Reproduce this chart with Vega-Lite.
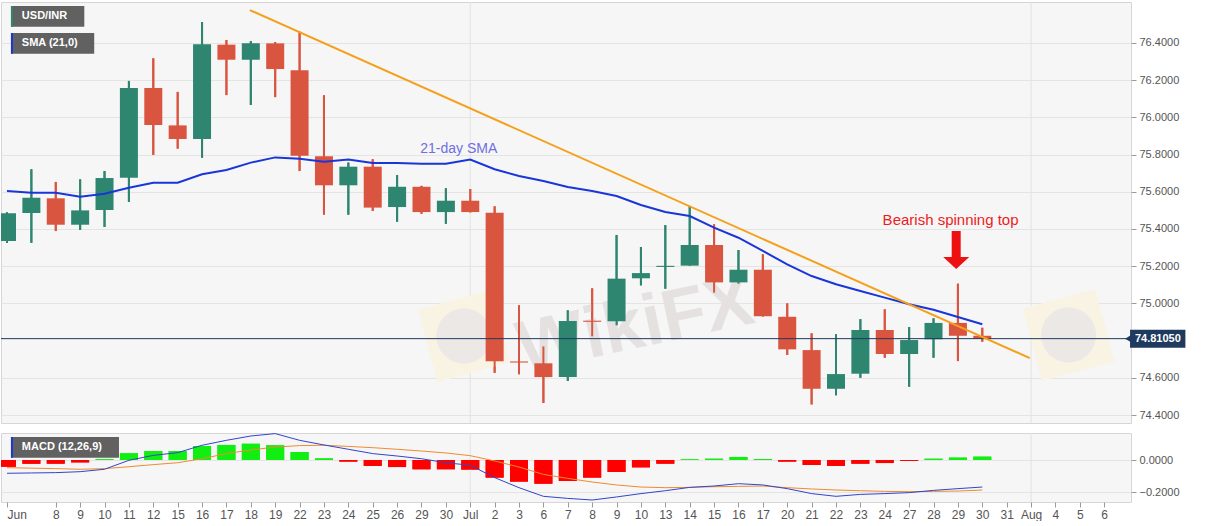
{
 "$schema": "https://vega.github.io/schema/vega-lite/v6.json",
 "background": "white",
 "padding": {"left": 0, "top": 1, "right": 0, "bottom": 0},
 "spacing": 10,
 "bounds": "flush",
 "config": {
  "font": "Liberation Sans",
  "view": {"fill": "#f6f6f6", "stroke": "#d6d6d6"},
  "axis": {"labelColor": "#555555", "labelFontSize": 11, "tickColor": "#9a9a9a", "domain": false, "gridColor": "#e4e4e4", "tickSize": 5},
  "axisX": {"labelOverlap": false, "labelFlush": false}
 },
 "datasets": {
  "ohlc": [
   {"i":0,"o":75.336,"h":75.49,"l":75.325,"c":75.484,"sma":75.604,"hist":-0.042,"macd":-0.083,"sig":-0.048},
   {"i":1,"o":75.486,"h":75.721,"l":75.326,"c":75.568,"sma":75.595,"hist":-0.023,"macd":-0.081,"sig":-0.051},
   {"i":2,"o":75.565,"h":75.653,"l":75.389,"c":75.423,"sma":75.595,"hist":-0.023,"macd":-0.079,"sig":-0.054},
   {"i":3,"o":75.423,"h":75.667,"l":75.395,"c":75.5,"sma":75.574,"hist":-0.015,"macd":-0.073,"sig":-0.058},
   {"i":4,"o":75.502,"h":75.712,"l":75.411,"c":75.674,"sma":75.59,"hist":0.005,"macd":-0.058,"sig":-0.054},
   {"i":5,"o":75.676,"h":76.196,"l":75.545,"c":76.158,"sma":75.622,"hist":0.042,"macd":-0.002,"sig":-0.042},
   {"i":6,"o":76.158,"h":76.318,"l":75.798,"c":75.959,"sma":75.649,"hist":0.056,"macd":0.029,"sig":-0.029},
   {"i":7,"o":75.957,"h":76.137,"l":75.832,"c":75.884,"sma":75.649,"hist":0.056,"macd":0.046,"sig":-0.017},
   {"i":8,"o":75.884,"h":76.513,"l":75.783,"c":76.393,"sma":75.694,"hist":0.0875,"macd":0.092,"sig":0.008},
   {"i":9,"o":76.391,"h":76.416,"l":76.12,"c":76.31,"sma":75.717,"hist":0.094,"macd":0.123,"sig":0.04},
   {"i":10,"o":76.31,"h":76.41,"l":76.067,"c":76.398,"sma":75.757,"hist":0.102,"macd":0.15,"sig":0.0625},
   {"i":11,"o":76.398,"h":76.405,"l":76.109,"c":76.26,"sma":75.785,"hist":0.092,"macd":0.165,"sig":0.081},
   {"i":12,"o":76.253,"h":76.461,"l":75.712,"c":75.794,"sma":75.778,"hist":0.05,"macd":0.123,"sig":0.09},
   {"i":13,"o":75.791,"h":76.119,"l":75.477,"c":75.635,"sma":75.762,"hist":0.01,"macd":0.094,"sig":0.092},
   {"i":14,"o":75.635,"h":75.757,"l":75.477,"c":75.735,"sma":75.773,"hist":-0.01,"macd":0.067,"sig":0.085},
   {"i":15,"o":75.735,"h":75.775,"l":75.497,"c":75.515,"sma":75.755,"hist":-0.037,"macd":0.04,"sig":0.077},
   {"i":16,"o":75.518,"h":75.69,"l":75.439,"c":75.627,"sma":75.755,"hist":-0.044,"macd":0.025,"sig":0.067},
   {"i":17,"o":75.627,"h":75.632,"l":75.482,"c":75.491,"sma":75.751,"hist":-0.058,"macd":0.008,"sig":0.056},
   {"i":18,"o":75.491,"h":75.619,"l":75.428,"c":75.552,"sma":75.751,"hist":-0.058,"macd":-0.017,"sig":0.044},
   {"i":19,"o":75.552,"h":75.615,"l":75.489,"c":75.491,"sma":75.773,"hist":-0.06,"macd":-0.033,"sig":0.027},
   {"i":20,"o":75.488,"h":75.522,"l":74.627,"c":74.689,"sma":75.721,"hist":-0.11,"macd":-0.11,"sig":-0.006},
   {"i":21,"o":74.688,"h":74.99,"l":74.619,"c":74.682,"sma":75.685,"hist":-0.135,"macd":-0.173,"sig":-0.044},
   {"i":22,"o":74.678,"h":74.769,"l":74.465,"c":74.604,"sma":75.658,"hist":-0.148,"macd":-0.227,"sig":-0.09},
   {"i":23,"o":74.604,"h":74.963,"l":74.583,"c":74.905,"sma":75.626,"hist":-0.131,"macd":-0.24,"sig":-0.115},
   {"i":24,"o":74.907,"h":75.081,"l":74.823,"c":74.901,"sma":75.604,"hist":-0.11,"macd":-0.25,"sig":-0.1375},
   {"i":25,"o":74.904,"h":75.368,"l":74.882,"c":75.133,"sma":75.577,"hist":-0.075,"macd":-0.231,"sig":-0.156},
   {"i":26,"o":75.135,"h":75.303,"l":75.097,"c":75.163,"sma":75.529,"hist":-0.046,"macd":-0.21,"sig":-0.169},
   {"i":27,"o":75.196,"h":75.421,"l":75.079,"c":75.202,"sma":75.491,"hist":-0.023,"macd":-0.192,"sig":-0.173},
   {"i":28,"o":75.203,"h":75.524,"l":75.203,"c":75.314,"sma":75.47,"hist":0.004,"macd":-0.171,"sig":-0.171},
   {"i":29,"o":75.314,"h":75.425,"l":75.058,"c":75.113,"sma":75.407,"hist":0.008,"macd":-0.1625,"sig":-0.167},
   {"i":30,"o":75.113,"h":75.287,"l":75.106,"c":75.181,"sma":75.353,"hist":0.019,"macd":-0.148,"sig":-0.165},
   {"i":31,"o":75.181,"h":75.264,"l":74.93,"c":74.931,"sma":75.282,"hist":0.006,"macd":-0.156,"sig":-0.1625},
   {"i":32,"o":74.928,"h":75.0,"l":74.723,"c":74.753,"sma":75.21,"hist":-0.01,"macd":-0.179,"sig":-0.173},
   {"i":33,"o":74.749,"h":74.839,"l":74.457,"c":74.541,"sma":75.147,"hist":-0.031,"macd":-0.21,"sig":-0.181},
   {"i":34,"o":74.541,"h":74.834,"l":74.506,"c":74.62,"sma":75.103,"hist":-0.037,"macd":-0.227,"sig":-0.1875},
   {"i":35,"o":74.622,"h":74.915,"l":74.6,"c":74.857,"sma":75.067,"hist":-0.023,"macd":-0.215,"sig":-0.192},
   {"i":36,"o":74.857,"h":74.968,"l":74.708,"c":74.728,"sma":75.031,"hist":-0.019,"macd":-0.21,"sig":-0.196},
   {"i":37,"o":74.728,"h":74.873,"l":74.552,"c":74.803,"sma":74.995,"hist":-0.006,"macd":-0.204,"sig":-0.198},
   {"i":38,"o":74.807,"h":74.92,"l":74.708,"c":74.895,"sma":74.966,"hist":0.008,"macd":-0.19,"sig":-0.196},
   {"i":39,"o":74.895,"h":75.106,"l":74.69,"c":74.826,"sma":74.927,"hist":0.015,"macd":-0.179,"sig":-0.194},
   {"i":40,"o":74.826,"h":74.869,"l":74.794,"c":74.8105,"sma":74.888,"hist":0.021,"macd":-0.169,"sig":-0.1875}
  ],
  "trend": [{"i":9.96,"v":76.577},{"i":41.95,"v":74.706}],
  "one": [{}]
 },
 "vconcat": [
  {
   "width": 1130, "height": 421,
   "layer": [
    {"data":{"name":"ohlc"},"mark":{"type":"rule","strokeWidth":2,"clip":true},
     "encoding":{
      "x":{"field":"i","type":"quantitative","scale":{"domain":[-0.0407,45.894],"nice":false,"zero":false},"axis":null},
      "y":{"field":"l","type":"quantitative","title":null,"scale":{"domain":[74.357,76.6204],"nice":false,"zero":false},
           "axis":{"orient":"right","title":null,"grid":true,"tickCount":20,"values":[74.4,74.6,75.0,75.2,75.4,75.6,75.8,76.0,76.2,76.4],"format":".4f","labelPadding":3}},
      "y2":{"field":"h"},
      "color":{"condition":{"test":"datum.c >= datum.o","value":"#2e8570"},"value":"#d95540"}}},
    {"data":{"name":"one"},"mark":{"type":"rule","color":"#e2e2e2","strokeWidth":1},
     "encoding":{"x":{"datum":19,"type":"quantitative","scale":{"domain":[-0.0407,45.894],"nice":false,"zero":false},"axis":null}}},
    {"data":{"name":"one"},"mark":{"type":"rule","color":"#e2e2e2","strokeWidth":1},
     "encoding":{"x":{"datum":42,"type":"quantitative","scale":{"domain":[-0.0407,45.894],"nice":false,"zero":false},"axis":null}}},
    {"data":{"name":"one"},"mark":{"type":"point","filled":true,"opacity":1,"shape":"square","size":5625,"angle":345,"color":"#f8f3e2","strokeWidth":0,"clip":true},
     "encoding":{"x":{"datum":18.74,"type":"quantitative","scale":{"domain":[-0.0407,45.894],"nice":false,"zero":false},"axis":null},
                 "y":{"datum":74.8247,"type":"quantitative","scale":{"domain":[74.357,76.6204],"nice":false,"zero":false}}}},
    {"data":{"name":"one"},"mark":{"type":"point","filled":true,"opacity":1,"shape":"circle","size":3025,"color":"#ece8e6","strokeWidth":0,"clip":true},
     "encoding":{"x":{"datum":18.74,"type":"quantitative","scale":{"domain":[-0.0407,45.894],"nice":false,"zero":false},"axis":null},
                 "y":{"datum":74.8247,"type":"quantitative","scale":{"domain":[74.357,76.6204],"nice":false,"zero":false}}}},
    {"data":{"name":"one"},"mark":{"type":"point","filled":true,"opacity":1,"shape":"square","size":5625,"angle":345,"color":"#f8f3e2","strokeWidth":0,"clip":true},
     "encoding":{"x":{"datum":43.54,"type":"quantitative","scale":{"domain":[-0.0407,45.894],"nice":false,"zero":false},"axis":null},
                 "y":{"datum":74.83,"type":"quantitative","scale":{"domain":[74.357,76.6204],"nice":false,"zero":false}}}},
    {"data":{"name":"one"},"mark":{"type":"point","filled":true,"opacity":1,"shape":"circle","size":3025,"color":"#ece8e6","strokeWidth":0,"clip":true},
     "encoding":{"x":{"datum":43.54,"type":"quantitative","scale":{"domain":[-0.0407,45.894],"nice":false,"zero":false},"axis":null},
                 "y":{"datum":74.83,"type":"quantitative","scale":{"domain":[74.357,76.6204],"nice":false,"zero":false}}}},
    {"data":{"name":"one"},"mark":{"type":"text","text":"WikiFX","fontSize":72,"fontWeight":"bold","angle":348,"color":"#e5e1e1","align":"center","baseline":"middle"},
     "encoding":{"x":{"datum":25.77,"type":"quantitative","scale":{"domain":[-0.0407,45.894],"nice":false,"zero":false},"axis":null},
                 "y":{"datum":74.88,"type":"quantitative","scale":{"domain":[74.357,76.6204],"nice":false,"zero":false}}}},
    {"data":{"name":"ohlc"},"mark":{"type":"rule","strokeWidth":2,"clip":true},
     "encoding":{
      "x":{"field":"i","type":"quantitative","scale":{"domain":[-0.0407,45.894],"nice":false,"zero":false},"axis":null},
      "y":{"field":"l","type":"quantitative","title":null,"scale":{"domain":[74.357,76.6204],"nice":false,"zero":false}},
      "y2":{"field":"h"},
      "color":{"condition":{"test":"datum.c >= datum.o","value":"#2e8570"},"value":"#d95540"}}},
    {"data":{"name":"ohlc"},"mark":{"type":"bar","size":18,"clip":true},
     "encoding":{
      "x":{"field":"i","type":"quantitative","scale":{"domain":[-0.0407,45.894],"nice":false,"zero":false},"axis":null},
      "y":{"field":"o","type":"quantitative","title":null,"scale":{"domain":[74.357,76.6204],"nice":false,"zero":false}},
      "y2":{"field":"c"},
      "color":{"condition":{"test":"datum.c >= datum.o","value":"#2e8570"},"value":"#d95540"}}},
    {"data":{"name":"one"},"mark":{"type":"rule","color":"#1e3a5f","strokeWidth":1},
     "encoding":{"y":{"datum":74.8105,"type":"quantitative","scale":{"domain":[74.357,76.6204],"nice":false,"zero":false}}}},
    {"data":{"name":"ohlc"},"mark":{"type":"line","color":"#1a35d8","strokeWidth":2,"clip":true},
     "encoding":{
      "x":{"field":"i","type":"quantitative","scale":{"domain":[-0.0407,45.894],"nice":false,"zero":false},"axis":null},
      "y":{"field":"sma","type":"quantitative","title":null,"scale":{"domain":[74.357,76.6204],"nice":false,"zero":false}}}},
    {"data":{"name":"trend"},"mark":{"type":"line","color":"#f5a01a","strokeWidth":2},
     "encoding":{
      "x":{"field":"i","type":"quantitative","scale":{"domain":[-0.0407,45.894],"nice":false,"zero":false},"axis":null},
      "y":{"field":"v","type":"quantitative","title":null,"scale":{"domain":[74.357,76.6204],"nice":false,"zero":false}}}},
    {"data":{"name":"one"},"mark":{"type":"text","text":"21-day SMA","fontSize":14,"color":"#6f6fe0","align":"left","baseline":"middle"},
     "encoding":{"x":{"datum":16.95,"type":"quantitative","scale":{"domain":[-0.0407,45.894],"nice":false,"zero":false},"axis":null},
                 "y":{"datum":75.83,"type":"quantitative","scale":{"domain":[74.357,76.6204],"nice":false,"zero":false}}}},
    {"data":{"name":"one"},"mark":{"type":"text","text":"Bearish spinning top","fontSize":15,"color":"#ee1c1c","align":"center","baseline":"middle"},
     "encoding":{"x":{"datum":38.7,"type":"quantitative","scale":{"domain":[-0.0407,45.894],"nice":false,"zero":false},"axis":null},
                 "y":{"datum":75.448,"type":"quantitative","scale":{"domain":[74.357,76.6204],"nice":false,"zero":false}}}},
    {"data":{"name":"one"},"mark":{"type":"point","filled":true,"opacity":1,"color":"#ee1111","size":1444,"strokeWidth":0,
      "shape":"M -0.237 -1 L 0.237 -1 L 0.237 0.368 L 0.684 0.368 L 0 1 L -0.684 0.368 L -0.237 0.368 Z"},
     "encoding":{"x":{"datum":38.93,"type":"quantitative","scale":{"domain":[-0.0407,45.894],"nice":false,"zero":false},"axis":null},
                 "y":{"datum":75.287,"type":"quantitative","scale":{"domain":[74.357,76.6204],"nice":false,"zero":false}}}},
    {"data":{"name":"one"},"mark":{"type":"rect","color":"#616161"},
     "encoding":{"x":{"datum":0.1626,"type":"quantitative","scale":{"domain":[-0.0407,45.894],"nice":false,"zero":false},"axis":null},"x2":{"datum":3.171},
                 "y":{"datum":76.599,"type":"quantitative","scale":{"domain":[74.357,76.6204],"nice":false,"zero":false}},"y2":{"datum":76.4876}}},
    {"data":{"name":"one"},"mark":{"type":"rect","color":"#2e8570"},
     "encoding":{"x":{"datum":0.1626,"type":"quantitative","scale":{"domain":[-0.0407,45.894],"nice":false,"zero":false},"axis":null},"x2":{"datum":0.2439},
                 "y":{"datum":76.599,"type":"quantitative","scale":{"domain":[74.357,76.6204],"nice":false,"zero":false}},"y2":{"datum":76.4876}}},
    {"data":{"name":"one"},"mark":{"type":"text","text":"USD/INR","fontSize":11,"fontWeight":"bold","color":"#ffffff","align":"left","baseline":"middle"},
     "encoding":{"x":{"datum":0.6098,"type":"quantitative","scale":{"domain":[-0.0407,45.894],"nice":false,"zero":false},"axis":null},
                 "y":{"datum":76.5434,"type":"quantitative","scale":{"domain":[74.357,76.6204],"nice":false,"zero":false}}}},
    {"data":{"name":"one"},"mark":{"type":"rect","color":"#616161"},
     "encoding":{"x":{"datum":0.1626,"type":"quantitative","scale":{"domain":[-0.0407,45.894],"nice":false,"zero":false},"axis":null},"x2":{"datum":3.577},
                 "y":{"datum":76.4538,"type":"quantitative","scale":{"domain":[74.357,76.6204],"nice":false,"zero":false}},"y2":{"datum":76.3425}}},
    {"data":{"name":"one"},"mark":{"type":"rect","color":"#1a35d8"},
     "encoding":{"x":{"datum":0.1626,"type":"quantitative","scale":{"domain":[-0.0407,45.894],"nice":false,"zero":false},"axis":null},"x2":{"datum":0.2439},
                 "y":{"datum":76.4538,"type":"quantitative","scale":{"domain":[74.357,76.6204],"nice":false,"zero":false}},"y2":{"datum":76.3425}}},
    {"data":{"name":"one"},"mark":{"type":"text","text":"SMA (21,0)","fontSize":11,"fontWeight":"bold","color":"#ffffff","align":"left","baseline":"middle"},
     "encoding":{"x":{"datum":0.6098,"type":"quantitative","scale":{"domain":[-0.0407,45.894],"nice":false,"zero":false},"axis":null},
                 "y":{"datum":76.398,"type":"quantitative","scale":{"domain":[74.357,76.6204],"nice":false,"zero":false}}}},
    {"data":{"name":"one"},"mark":{"type":"point","filled":true,"opacity":1,"color":"#1e3a5f","shape":"triangle-left","size":60,"strokeWidth":0},
     "encoding":{"x":{"datum":45.99,"type":"quantitative","scale":{"domain":[-0.0407,45.894],"nice":false,"zero":false},"axis":null},
                 "y":{"datum":74.8105,"type":"quantitative","scale":{"domain":[74.357,76.6204],"nice":false,"zero":false}}}},
    {"data":{"name":"one"},"mark":{"type":"rect","color":"#1e3a5f"},
     "encoding":{"x":{"datum":46.06,"type":"quantitative","scale":{"domain":[-0.0407,45.894],"nice":false,"zero":false},"axis":null},"x2":{"datum":48.33},
                 "y":{"datum":74.859,"type":"quantitative","scale":{"domain":[74.357,76.6204],"nice":false,"zero":false}},"y2":{"datum":74.762}}},
    {"data":{"name":"one"},"mark":{"type":"text","text":"74.81050","fontSize":11,"fontWeight":"bold","color":"#ffffff","align":"center","baseline":"middle"},
     "encoding":{"x":{"datum":47.2,"type":"quantitative","scale":{"domain":[-0.0407,45.894],"nice":false,"zero":false},"axis":null},
                 "y":{"datum":74.8105,"type":"quantitative","scale":{"domain":[74.357,76.6204],"nice":false,"zero":false}}}}
   ]
  },
  {
   "width": 1130, "height": 69,
   "layer": [
    {"data":{"name":"ohlc"},"mark":{"type":"bar","size":18,"clip":true},
     "encoding":{
      "x":{"field":"i","type":"quantitative","title":null,"scale":{"domain":[-0.0407,45.894],"nice":false,"zero":false},
           "axis":{"title":null,"grid":false,"tickCount":80,"values":[0,2,3,4,5,6,7,8,9,10,11,12,13,14,15,16,17,18,19,20,21,22,23,24,25,26,27,28,29,30,31,32,33,34,35,36,37,38,39,40,41,42,43,44,45],
                   "labelExpr":"['Jun','','8','9','10','11','12','15','16','17','18','19','22','23','24','25','26','29','30','Jul','2','3','6','7','8','9','10','13','14','15','16','17','20','21','22','23','24','27','28','29','30','31','Aug','4','5','6'][datum.value]",
                   "labelAlign":{"condition":{"test":"datum.value == 0","value":"left"},"value":"center"},
                   "labelOverlap":false,"labelFlush":false,"labelPadding":2,"labelFontSize":12}},
      "y":{"field":"hist","type":"quantitative","title":null,"scale":{"domain":[-0.2625,0.16875],"nice":false,"zero":false},
           "axis":{"orient":"right","title":null,"grid":true,"tickCount":10,"values":[0,-0.2],"format":".4f","labelPadding":3}},
      "y2":{"datum":0},
      "color":{"condition":{"test":"datum.hist >= 0","value":"#11ee11"},"value":"#ff0000"}}},
    {"data":{"name":"one"},"mark":{"type":"rule","color":"#e2e2e2","strokeWidth":1},
     "encoding":{"x":{"datum":19,"type":"quantitative","scale":{"domain":[-0.0407,45.894],"nice":false,"zero":false}}}},
    {"data":{"name":"one"},"mark":{"type":"rule","color":"#e2e2e2","strokeWidth":1},
     "encoding":{"x":{"datum":42,"type":"quantitative","scale":{"domain":[-0.0407,45.894],"nice":false,"zero":false}}}},
    {"data":{"name":"ohlc"},"mark":{"type":"bar","size":18,"clip":true},
     "encoding":{
      "x":{"field":"i","type":"quantitative","title":null,"scale":{"domain":[-0.0407,45.894],"nice":false,"zero":false}},
      "y":{"field":"hist","type":"quantitative","title":null,"scale":{"domain":[-0.2625,0.16875],"nice":false,"zero":false}},
      "y2":{"datum":0},
      "color":{"condition":{"test":"datum.hist >= 0","value":"#11ee11"},"value":"#ff0000"}}},
    {"data":{"name":"ohlc"},"mark":{"type":"line","color":"#f08a30","strokeWidth":1,"clip":true},
     "encoding":{
      "x":{"field":"i","type":"quantitative","title":null,"scale":{"domain":[-0.0407,45.894],"nice":false,"zero":false}},
      "y":{"field":"sig","type":"quantitative","title":null,"scale":{"domain":[-0.2625,0.16875],"nice":false,"zero":false}}}},
    {"data":{"name":"ohlc"},"mark":{"type":"line","color":"#3344cc","strokeWidth":1,"clip":true},
     "encoding":{
      "x":{"field":"i","type":"quantitative","title":null,"scale":{"domain":[-0.0407,45.894],"nice":false,"zero":false}},
      "y":{"field":"macd","type":"quantitative","title":null,"scale":{"domain":[-0.2625,0.16875],"nice":false,"zero":false}}}},
    {"data":{"name":"one"},"mark":{"type":"rect","color":"#616161"},
     "encoding":{"x":{"datum":0.1626,"type":"quantitative","scale":{"domain":[-0.0407,45.894],"nice":false,"zero":false}},"x2":{"datum":4.593},
                 "y":{"datum":0.14375,"type":"quantitative","scale":{"domain":[-0.2625,0.16875],"nice":false,"zero":false}},"y2":{"datum":0.0144}}},
    {"data":{"name":"one"},"mark":{"type":"rect","color":"#1a35d8"},
     "encoding":{"x":{"datum":0.1626,"type":"quantitative","scale":{"domain":[-0.0407,45.894],"nice":false,"zero":false}},"x2":{"datum":0.2439},
                 "y":{"datum":0.14375,"type":"quantitative","scale":{"domain":[-0.2625,0.16875],"nice":false,"zero":false}},"y2":{"datum":0.0144}}},
    {"data":{"name":"one"},"mark":{"type":"text","text":"MACD (12,26,9)","fontSize":11,"fontWeight":"bold","color":"#ffffff","align":"left","baseline":"middle"},
     "encoding":{"x":{"datum":0.6098,"type":"quantitative","scale":{"domain":[-0.0407,45.894],"nice":false,"zero":false}},
                 "y":{"datum":0.079,"type":"quantitative","scale":{"domain":[-0.2625,0.16875],"nice":false,"zero":false}}}}
   ]
  }
 ]
}
